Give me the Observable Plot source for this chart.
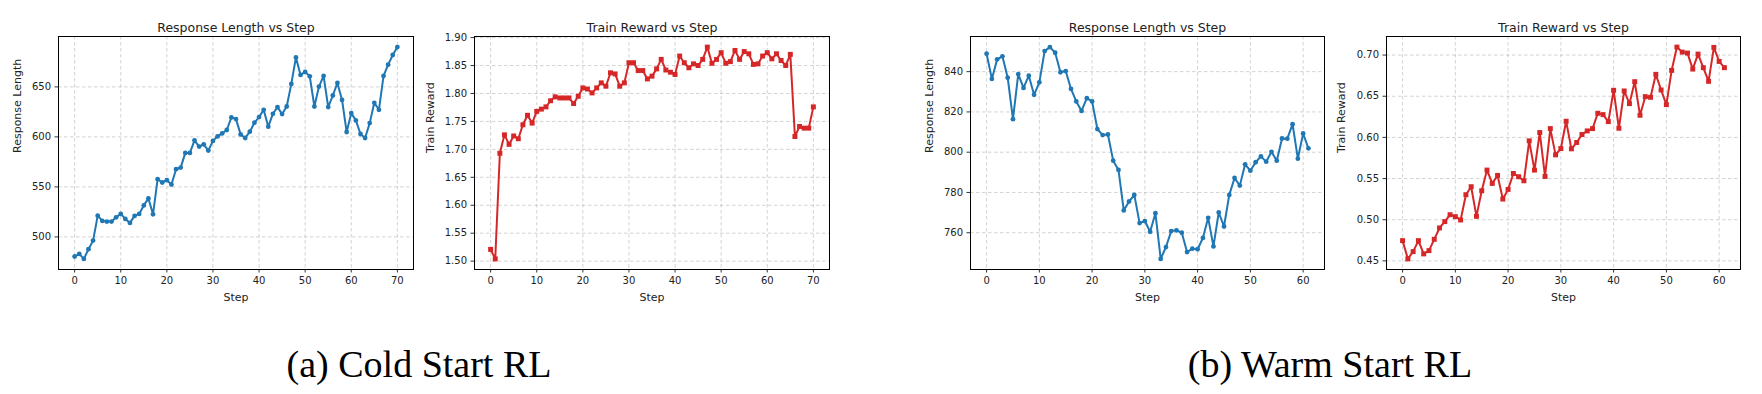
<!DOCTYPE html>
<html>
<head>
<meta charset="utf-8">
<script src="https://cdn.jsdelivr.net/npm/d3@7"></script>
<script src="https://cdn.jsdelivr.net/npm/@observablehq/plot@0.6"></script>
<style>
  html, body { margin: 0; padding: 0; background: #fff; }
  #root { position: relative; width: 1762px; height: 394px; overflow: hidden; background: #fff; }
  .panel { position: absolute; top: 0; }
  .caption { position: absolute; width: 600px; text-align: center; font-family: "Liberation Serif", "Times New Roman", serif; font-size: 38px; line-height: 38px; color: #000; white-space: nowrap; }
</style>
</head>
<body>
<div id="root"></div>
<script>
// ---- Data ----
const coldLength = [
  480.4, 483, 478, 487.7, 496.3, 521.2, 516, 515.3, 515.3, 519.6,
  523, 518, 514, 521, 523, 531.5, 538.5, 522.6, 557.7, 554.4,
  556.7, 552.4, 567.7, 569.3, 584, 584, 596.6, 590.3, 592.6, 586.3,
  596, 600.5, 603.5, 606.9, 619.5, 617.8, 602.5, 598.9, 605.2, 614.2,
  619.8, 627.1, 610.2, 623.1, 629.8, 622.8, 630.4, 653, 679.5, 662,
  665, 660.6, 630.4, 650.3, 661, 629.8, 641.4, 654, 637, 604.9,
  623.8, 616.5, 602.9, 598.9, 613.8, 634.1, 627.1, 661, 672.2, 681.9,
  689.8
];
const coldReward = [
  1.521, 1.504, 1.693, 1.726, 1.709, 1.724, 1.719, 1.744, 1.761, 1.747,
  1.768, 1.772, 1.776, 1.787, 1.794, 1.792, 1.792, 1.792, 1.782, 1.795,
  1.810, 1.808, 1.801, 1.810, 1.819, 1.813, 1.837, 1.835, 1.813, 1.819,
  1.855, 1.855, 1.841, 1.841, 1.826, 1.831, 1.844, 1.861, 1.842, 1.838,
  1.834, 1.867, 1.855, 1.846, 1.853, 1.850, 1.861, 1.883, 1.854, 1.861,
  1.873, 1.854, 1.857, 1.877, 1.861, 1.875, 1.871, 1.852, 1.853, 1.867,
  1.873, 1.862, 1.871, 1.859, 1.850, 1.870, 1.723, 1.741, 1.738, 1.738,
  1.776
];
const warmLength = [
  848.9, 836.4, 846.1, 847.6, 837.0, 816.4, 838.8, 831.9, 838.0, 828.5,
  834.7, 850.2, 852.2, 849.4, 839.7, 840.3, 831.4, 825.2, 820.5, 826.8,
  825.2, 811.5, 808.5, 808.8, 795.8, 791.2, 771.1, 775.5, 778.8, 764.8,
  765.8, 760.5, 769.7, 747.0, 752.9, 760.8, 761.2, 760.0, 750.4, 752.1,
  751.8, 757.4, 767.4, 753.2, 770.1, 763.1, 778.8, 787.2, 783.4, 794.0,
  790.8, 795.0, 797.9, 795.3, 800.2, 795.8, 806.8, 806.7, 813.9, 796.8,
  809.3, 801.9
];
const warmReward = [
  0.4746, 0.4524, 0.4613, 0.4746, 0.4585, 0.4625, 0.4762, 0.4900, 0.4977, 0.5061,
  0.5037, 0.4997, 0.5304, 0.5401, 0.5041, 0.5352, 0.5603, 0.5441, 0.5538, 0.5251,
  0.5368, 0.5562, 0.5522, 0.5473, 0.5958, 0.5603, 0.6059, 0.5526, 0.6107, 0.5788,
  0.5865, 0.6196, 0.5861, 0.5938, 0.6035, 0.6079, 0.6107, 0.6293, 0.6277, 0.6192,
  0.6572, 0.6111, 0.6564, 0.6410, 0.6677, 0.6269, 0.6495, 0.6487, 0.6766, 0.6576,
  0.6398, 0.6814, 0.7097, 0.7036, 0.7024, 0.6830, 0.7012, 0.6847, 0.6681, 0.7093,
  0.6923, 0.6847
];

const coldStepTicks = [0, 10, 20, 30, 40, 50, 60, 70];
const warmStepTicks = [0, 10, 20, 30, 40, 50, 60];
const coldLengthTicks = [500, 550, 600, 650];
const coldRewardTicks = [1.50, 1.55, 1.60, 1.65, 1.70, 1.75, 1.80, 1.85, 1.90];
const warmLengthTicks = [760, 780, 800, 820, 840];
const warmRewardTicks = [0.45, 0.50, 0.55, 0.60, 0.65, 0.70];

const titles = ["Response Length vs Step", "Train Reward vs Step"];
const yLabels = ["Response Length", "Train Reward"];
const xLabel = "Step";
const captions = ["(a) Cold Start RL", "(b) Warm Start RL"];

const BLUE = "#1f77b4";
const RED = "#d62728";

function padded(lo, hi) {
  const m = (hi - lo) * 0.05;
  return [lo - m, hi + m];
}

function panel({values, title, ylabel, color, symbol, r, xTicks, yTicks, yFormat, left, marginLeft, frameW, ylabelOffset}) {
  const data = values.map((v, i) => ({step: i, value: v}));
  const marginTop = 36, frameH = 233, marginBottom = 45, marginRight = 10;
  const fontFamily = "DejaVu Sans, sans-serif";
  const chart = Plot.plot({
    width: marginLeft + frameW + marginRight,
    height: marginTop + frameH + marginBottom,
    marginLeft, marginRight, marginTop, marginBottom,
    style: {fontFamily, color: "#222", background: "transparent", overflow: "visible"},
    x: {domain: padded(0, values.length - 1)},
    y: {domain: padded(d3.min(values), d3.max(values))},
    marks: [
      Plot.gridX(xTicks, {stroke: "#b0b0b0", strokeOpacity: 0.7, strokeWidth: 0.8, strokeDasharray: "3.5,2.5"}),
      Plot.gridY(yTicks, {stroke: "#b0b0b0", strokeOpacity: 0.7, strokeWidth: 0.8, strokeDasharray: "3.5,2.5"}),
      Plot.axisX(xTicks, {tickSize: 3.5, tickPadding: 4, fontSize: 10, label: null, stroke: "#000", strokeWidth: 0.8, fill: "#222"}),
      Plot.axisY(yTicks, {tickSize: 3.5, tickPadding: 4, fontSize: 10, label: null, tickFormat: d3.format(yFormat), stroke: "#000", strokeWidth: 0.8, fill: "#222"}),
      Plot.line(data, {x: "step", y: "value", stroke: color, strokeWidth: 2}),
      Plot.dot(data, {x: "step", y: "value", fill: color, r, symbol}),
      Plot.frame({stroke: "#000", strokeWidth: 1}),
      Plot.text([title], {frameAnchor: "top", dy: -13, fontSize: 12.5, fill: "#222"}),
      Plot.text([xLabel], {frameAnchor: "bottom", dy: 31, fontSize: 11, fill: "#222"}),
      Plot.text([ylabel], {frameAnchor: "left", dx: -ylabelOffset, rotate: -90, fontSize: 11, fill: "#222"})
    ]
  });
  chart.classList.add("panel");
  chart.style.left = left + "px";
  return chart;
}

const root = document.getElementById("root");
root.appendChild(panel({values: coldLength, title: titles[0], ylabel: yLabels[0], color: BLUE, symbol: "circle", r: 2.4,
  xTicks: coldStepTicks, yTicks: coldLengthTicks, yFormat: "d", left: 0, marginLeft: 58, frameW: 355, ylabelOffset: 41}));
root.appendChild(panel({values: coldReward, title: titles[1], ylabel: yLabels[1], color: RED, symbol: "square", r: 2.8,
  xTicks: coldStepTicks, yTicks: coldRewardTicks, yFormat: ".2f", left: 420, marginLeft: 54, frameW: 355, ylabelOffset: 44}));
root.appendChild(panel({values: warmLength, title: titles[0], ylabel: yLabels[0], color: BLUE, symbol: "circle", r: 2.4,
  xTicks: warmStepTicks, yTicks: warmLengthTicks, yFormat: "d", left: 910, marginLeft: 60, frameW: 354, ylabelOffset: 41}));
root.appendChild(panel({values: warmReward, title: titles[1], ylabel: yLabels[1], color: RED, symbol: "square", r: 2.8,
  xTicks: warmStepTicks, yTicks: warmRewardTicks, yFormat: ".2f", left: 1330, marginLeft: 56, frameW: 354, ylabelOffset: 45}));

const capCenters = [419, 1330];
captions.forEach((c, i) => {
  const d = document.createElement("div");
  d.className = "caption";
  d.textContent = c;
  d.style.left = (capCenters[i] - 300) + "px";
  d.style.top = "345px";
  root.appendChild(d);
});
</script>
</body>
</html>
